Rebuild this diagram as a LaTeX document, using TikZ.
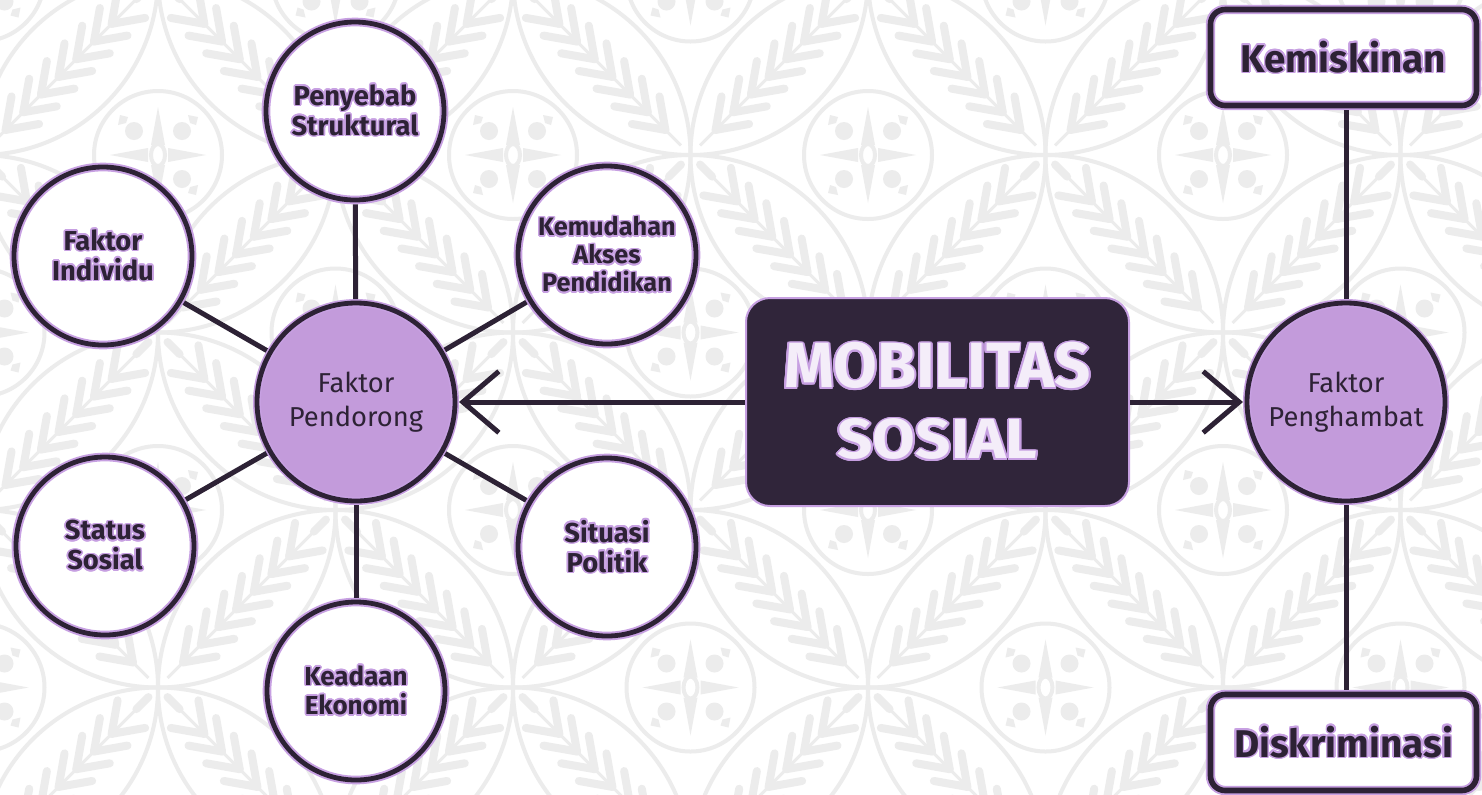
\documentclass[tikz,border=0pt]{standalone}
\usepackage{fontspec}
\setmainfont{Fira Sans}
\usepackage{contour}
\usetikzlibrary{arrows.meta}
\definecolor{lav}{HTML}{C39BDB}
\definecolor{ink}{HTML}{2D2235}
\definecolor{boxfill}{HTML}{30253A}
\definecolor{pat}{HTML}{ECECEC}
\definecolor{halo}{HTML}{C7A0E2}
\definecolor{lighttxt}{HTML}{F4EDF9}
\contourlength{1.2pt}
\newcommand\glowtxt[1]{\contour{halo}{#1}}
\begin{document}
\begin{tikzpicture}[x=0.75pt,y=-0.75pt,
  patline/.style={draw=pat, line width=3pt},
  leafline/.style={draw=pat, line width=6pt, line cap=round},
  hub/.style={circle, fill=lav, draw=halo, line width=6pt,
    postaction={draw=ink, line width=3.6pt},
    minimum size=198*0.75pt, inner sep=0pt, align=center, text=ink,
    font=\fontsize{20.5}{25}\selectfont},
  sat/.style={circle, fill=white, draw=halo, line width=6.5pt,
    postaction={draw=ink, line width=3.6pt},
    minimum size=178*0.75pt, inner sep=0pt, align=center, text=ink,
    font=\fontsize{20.5}{22.5}\selectfont\bfseries},
  tag/.style={rectangle, rounded corners=11pt, fill=white, draw=halo, line width=7pt,
    postaction={draw=ink, line width=4.2pt},
    minimum width=266*0.75pt, minimum height=96*0.75pt, inner sep=0pt,
    text=ink, font=\fontsize{29}{32}\selectfont\bfseries},
  core/.style={rectangle, rounded corners=18pt, fill=boxfill, draw=halo, line width=1.5pt,
    minimum width=383*0.75pt, minimum height=208*0.75pt, inner sep=0pt,
    align=center, text=lighttxt, font=\fontsize{10}{10}\selectfont},
  conn/.style={draw=ink, line width=3.75pt},
  arr/.style={conn, -{Straight Barb[length=27pt, width=46pt]}}
]
\fill[white] (0,0) rectangle (1482,794);
\useasboundingbox (0,0) rectangle (1482,794);

% background ornament
\begin{scope}
\clip (0,0) rectangle (1482,794);
\foreach \i in {-5,...,4}{
  \foreach \j in {-1,...,4}{
    \pgfmathsetmacro\cx{868+177.5*\i}
    \pgfmathsetmacro\cy{155+177.5*\j}
    \pgfmathtruncatemacro\ev{iseven(\i+\j)}
    \ifnum\ev=1
      \draw[patline] (\cx,\cy) circle[radius=177.5];
      \draw[patline] (\cx,\cy) circle[radius=64];
      \begin{scope}[shift={(\cx,\cy)}]
        \foreach \a in {0,90,180,270}{
          \begin{scope}[rotate=\a]
            \fill[pat] (10,-7) -- (48,0) -- (10,7) -- cycle;
            \fill[pat] (24,24) circle[radius=9];
            \fill[pat] (32,32) -- (40,30) -- (38,40) -- (30,38) -- cycle;
          \end{scope}
        }
        \draw[pat, line width=3pt] (0,0) ellipse[x radius=7, y radius=11];
      \end{scope}
      \def\ang{45}
    \else
      \def\ang{135}
    \fi
    \begin{scope}[shift={(\cx+88.75,\cy+88.75)}, rotate=\ang]
      \draw[pat, line width=2.2pt] (-112,0) -- (102,0);
      \foreach \t in {-90,-65,...,60}{
        \draw[leafline] (\t,0) -- ++(35:34);
        \draw[leafline] (\t,0) -- ++(-35:34);
      }
      \draw[leafline] (95,0) -- (112,0);
    \end{scope}
  }
}
\end{scope}

% main nodes
\node[hub] (pend) at (356,402) {Faktor\\Pendorong};
\node[hub] (peng) at (1346,402) {Faktor\\Penghambat};
\node[core] (mob) at (937.5,402) {%
  \resizebox{230pt}{34pt}{\fontsize{48}{50}\selectfont\bfseries\contourlength{1.4pt}\contour{halo}{MOBILITAS}}\\[20pt]%
  \resizebox{150pt}{30pt}{\fontsize{48}{50}\selectfont\bfseries\contourlength{1.4pt}\contour{halo}{SOSIAL}}};

\node[sat] (ps) at (355,111) {\glowtxt{Penyebab}\\\glowtxt{Struktural}};
\node[sat] (fi) at (103,256) {\glowtxt{Faktor}\\\glowtxt{Individu}};
\node[sat, font=\fontsize{19}{21}\selectfont\bfseries] (ka) at (607,255)
  {\glowtxt{Kemudahan}\\\glowtxt{Akses}\\\glowtxt{Pendidikan}};
\node[sat] (ss) at (105,546) {\glowtxt{Status}\\\glowtxt{Sosial}};
\node[sat] (sp) at (607,547) {\glowtxt{Situasi}\\\glowtxt{Politik}};
\node[sat, font=\fontsize{19.5}{22}\selectfont\bfseries] (ke) at (356,691) {\glowtxt{Keadaan}\\\glowtxt{Ekonomi}};

\node[tag] (kem) at (1343.5,57.5) {\glowtxt{Kemiskinan}};
\node[tag] (dis) at (1343.5,742.5) {\glowtxt{Diskriminasi}};

% connectors
\foreach \s in {ps,fi,ka,ss,sp,ke}{\draw[conn] (pend) -- (\s);}
\draw[conn] (peng) -- (peng |- kem.south);
\draw[conn] (peng) -- (peng |- dis.north);
\draw[arr] (mob.west) -- (pend.east);
\draw[arr] (mob.east) -- (peng.west);
\end{tikzpicture}
\end{document}
